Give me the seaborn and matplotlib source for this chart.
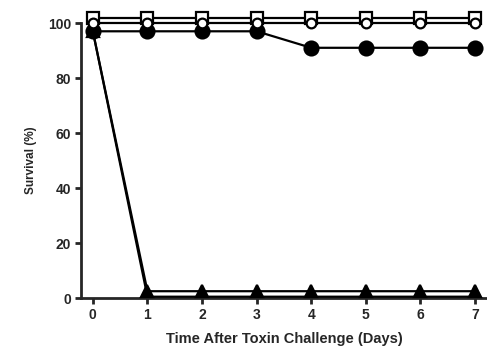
import matplotlib
matplotlib.use("Agg")
from matplotlib import pyplot as plt
import numpy as np
import pandas as pd
import seaborn as sns

days = [0, 1, 2, 3, 4, 5, 6, 7]
open_squares = [102, 102, 102, 102, 102, 102, 102, 102]
open_circles = [100, 100, 100, 100, 100, 100, 100, 100]
filled_circles = [97, 97, 97, 97, 91, 91, 91, 91]
triangles_a = [97, 2.5, 2.5, 2.5, 2.5, 2.5, 2.5, 2.5]
triangles_b = [97, 0.5, 0.5, 0.5, 0.5, 0.5, 0.5, 0.5]

sns.set_style("ticks")
plt.rcParams['font.family'] = ['Liberation Sans', 'DejaVu Sans']

fig = plt.figure(figsize=(4.87, 3.6), dpi=100)
ax = fig.add_axes([0.166, 0.172, 0.834, 0.764])

# series: (values, marker, face, size)
series = [
    (triangles_b, None, "black", 0),
    (triangles_a, "^", "black", 9),
    (filled_circles, "o", "black", 10),
    (open_squares, "s", "white", 8),
    (open_circles, "o", "white", 7),
]
for vals, mk, face, ms in series:
    df = pd.DataFrame({"Day": days, "Survival": vals})
    sns.lineplot(data=df, x="Day", y="Survival", ax=ax, color="black",
                 linewidth=1.6, marker=mk, markersize=ms,
                 markerfacecolor=face, markeredgecolor="black",
                 markeredgewidth=1.6, clip_on=False, zorder=3)

ax.set_xlim(-0.22, 7.22)
ax.set_ylim(0, 100)
ax.set_xticks(days)
ax.set_yticks([0, 20, 40, 60, 80, 100])
sns.despine(ax=ax)
for s in ["left", "bottom"]:
    ax.spines[s].set_linewidth(2)
ax.tick_params(direction="out", length=4, width=2, labelsize=10, pad=3)
for lbl in ax.get_xticklabels() + ax.get_yticklabels():
    lbl.set_fontweight("bold")
ax.set_xlabel("Time After Toxin Challenge (Days)", fontsize=10.5,
              fontweight="bold", labelpad=7)
ax.set_ylabel("Survival (%)", fontsize=8.5, fontweight="bold", labelpad=8)

fig.savefig("out.png", dpi=100)
